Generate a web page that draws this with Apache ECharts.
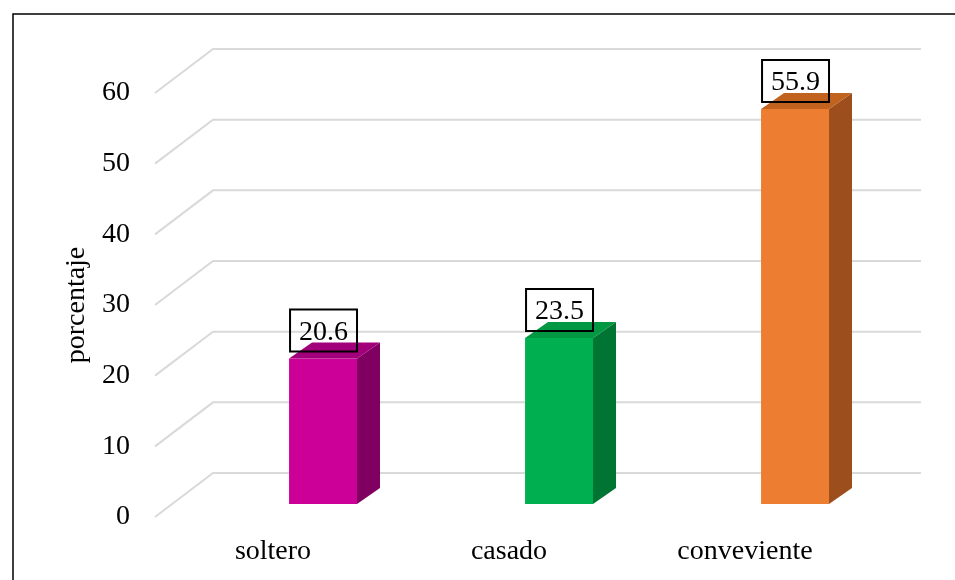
<!DOCTYPE html>
<html>
<head>
<meta charset="utf-8">
<script src="https://cdn.jsdelivr.net/npm/echarts@6/dist/echarts.min.js"></script>
<style>
html,body{margin:0;padding:0;background:#fff;}
#main{width:955px;height:580px;}
</style>
</head>
<body>
<div id="main"></div>
<script>
const categories = ['soltero', 'casado', 'conveviente'];
const values = [20.6, 23.5, 55.9];
const yTicks = [0, 10, 20, 30, 40, 50, 60];
const frontColors = ['#CC0099', '#00B050', '#ED7D31'];
const sideColors = ['#7F0060', '#007433', '#9C4F1D'];
const topColors = ['#A1007A', '#009843', '#C1621F'];

const FONT = 'Liberation Serif';
const DX = 58, DY = 44;        // wall depth offset
const BDX = 23, BDY = 16;      // bar depth
const BAR_SHIFT = 13;          // bar base above front plane

const chart = echarts.init(document.getElementById('main'));

const option = {
  animation: false,
  graphic: [{
    type: 'rect',
    shape: { x: 13, y: 14, width: 1000, height: 700 },
    style: { fill: 'none', stroke: '#000', lineWidth: 1.5 },
    silent: true
  }],
  grid: { left: 155, right: 92, top: 93, bottom: 63 },
  xAxis: {
    type: 'category',
    data: categories,
    axisLine: { show: false },
    axisTick: { show: false },
    axisLabel: { fontFamily: FONT, fontSize: 28, color: '#000', margin: 21 }
  },
  yAxis: {
    type: 'value',
    min: 0, max: 60, interval: 10,
    axisLine: { show: false },
    axisTick: { show: false },
    splitLine: { show: false },
    axisLabel: { fontFamily: FONT, fontSize: 28, color: '#000', margin: 25 },
    name: 'porcentaje',
    nameLocation: 'middle',
    nameRotate: 90,
    nameGap: 63,
    nameTextStyle: { fontFamily: FONT, fontSize: 28, color: '#000' }
  },
  series: [
    {
      type: 'custom',
      silent: true,
      z: 1,
      data: yTicks.map(v => [0, v]),
      renderItem: function (params, api) {
        const cs = params.coordSys;
        const y = api.coord([0, api.value(1)])[1];
        const x0 = cs.x;
        return {
          type: 'polyline',
          shape: { points: [[x0, y], [x0 + DX, y - DY], [cs.x + cs.width + DX, y - DY]] },
          style: { stroke: '#D9D9D9', lineWidth: 2, fill: null }
        };
      }
    },
    {
      type: 'custom',
      z: 3,
      data: values.map((v, i) => [i, v]),
      renderItem: function (params, api) {
        const i = api.value(0);
        const v = api.value(1);
        const bw = api.size([1, 0])[0];
        const base = api.coord([i, 0]);
        const topP = api.coord([i, v]);
        const xl = base[0] + bw * 0.068;
        const w = bw * 0.288;
        const xr = xl + w;
        const yb = base[1] - BAR_SHIFT;
        const yt = topP[1] - BAR_SHIFT;
        const idx = params.dataIndex;
        return {
          type: 'group',
          children: [
            {
              type: 'polygon',
              shape: { points: [[xr, yb], [xr + BDX, yb - BDY], [xr + BDX, yt - BDY], [xr, yt]] },
              style: { fill: sideColors[idx] }
            },
            {
              type: 'polygon',
              shape: { points: [[xl, yt], [xl + BDX, yt - BDY], [xr + BDX, yt - BDY], [xr, yt]] },
              style: { fill: topColors[idx] }
            },
            {
              type: 'rect',
              shape: { x: xl, y: yt, width: w, height: yb - yt },
              style: { fill: frontColors[idx] }
            },
            {
              type: 'rect',
              shape: { x: xl + 1, y: yt - 49, width: w - 1, height: 42 },
              style: { fill: 'none', stroke: '#000', lineWidth: 2 }
            },
            {
              type: 'text',
              style: {
                x: xl + w / 2 + 0.5, y: yt - 26,
                text: String(v),
                align: 'center', verticalAlign: 'middle',
                fontFamily: FONT, fontSize: 28, fill: '#000'
              }
            }
          ]
        };
      }
    }
  ]
};
chart.setOption(option);
</script>
</body>
</html>
